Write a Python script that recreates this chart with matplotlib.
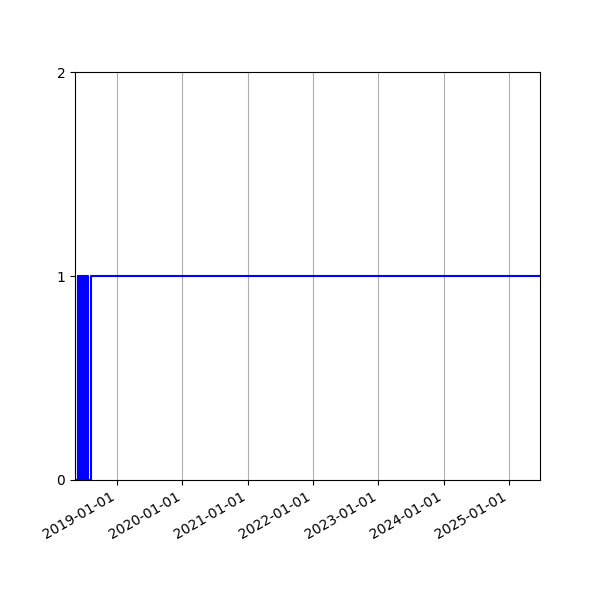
import matplotlib
matplotlib.use("Agg")
import matplotlib.pyplot as plt
import matplotlib.dates as mdates
import pandas as pd

# status change events (date, state)
change_dates = [
    "2018-05-11", "2018-05-25", "2018-05-26",
    "2018-06-04", "2018-06-06", "2018-06-07", "2018-06-09", "2018-06-10",
    "2018-06-12", "2018-06-13", "2018-06-15", "2018-06-16", "2018-06-18",
    "2018-06-19", "2018-06-23", "2018-06-24", "2018-06-26", "2018-06-27",
    "2018-06-29", "2018-06-30", "2018-07-02", "2018-07-03", "2018-07-05",
    "2018-07-06", "2018-07-08", "2018-07-09", "2018-07-11", "2018-07-15",
    "2018-07-17", "2018-07-18", "2018-07-21",
    "2018-08-11", "2025-06-23",
]
states = [
    0, 1, 0,
    1, 0, 1, 0, 1,
    0, 1, 0, 1, 0,
    1, 0, 1, 0, 1,
    0, 1, 0, 1, 0,
    1, 0, 1, 0, 1,
    0, 1, 0,
    1, 1,
]

dates = pd.to_datetime(change_dates)

fig, ax = plt.subplots(figsize=(6, 6), dpi=100)
ax.step(dates, states, where="post", color="blue", linewidth=1.5)
ax.set_xlim(dates[0], dates[-1])
ax.set_ylim(0, 2)
ax.set_yticks([0, 1, 2])
ax.xaxis.set_major_locator(mdates.YearLocator())
ax.xaxis.set_major_formatter(mdates.DateFormatter("%Y-%m-%d"))
ax.grid(True, axis="x")
fig.autofmt_xdate()
fig.savefig("out.png", dpi=100)
